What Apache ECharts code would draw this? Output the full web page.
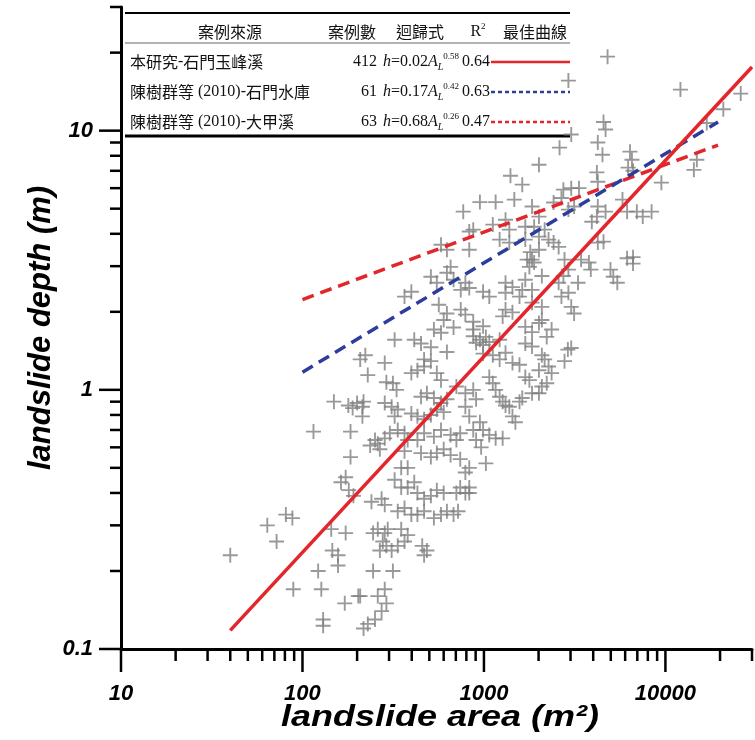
<!DOCTYPE html>
<html>
<head>
<meta charset="utf-8">
<script src="https://cdn.jsdelivr.net/npm/echarts@6/dist/echarts.min.js"></script>
<style>
  html, body { margin: 0; padding: 0; background: #fff; }
  #chart { width: 755px; height: 740px; }
</style>
</head>
<body>
<div id="chart"></div>
<script>
// landslide area (m2) / depth (m)
const areas = [
  40, 64, 72, 81, 88, 89, 122, 127, 130, 130, 115, 149, 146, 157, 157, 144, 173, 171, 203, 163,
  173, 180, 191, 184, 184, 179, 189, 200, 214, 217, 214, 208, 229, 222, 245, 260, 284, 295, 277, 290,
  267, 245, 315, 260, 284, 290, 273, 251, 229, 217, 208, 236, 251, 260, 267, 284, 240, 273, 284, 290,
  315, 330, 284, 310, 335, 322, 303, 335, 365, 380, 365, 350, 380, 322, 350, 380, 413, 430, 468, 510,
  335, 365, 398, 430, 468, 350, 380, 365, 335, 310, 457, 485, 468, 530, 580, 625, 680, 720, 550, 600,
  705, 790, 830, 450, 510, 550, 600, 655, 430, 468, 530, 580, 655, 705, 740, 398, 430, 468, 510, 550,
  600, 450, 485, 530, 580, 625, 398, 430, 468, 510, 550, 705, 790, 873, 905, 790, 830, 950, 873, 905,
  740, 830, 790, 740, 830,
  989, 1070, 1160, 1268, 1025, 965, 625, 905, 989, 1119, 1220, 1436, 1570, 1690, 1780, 1841, 2085, 2160, 2270, 2360,
  2218, 2085, 2010, 3027, 2780, 1070, 1119, 1160, 1220, 1268, 1315, 1380, 1436, 1490, 1570, 1626, 1841, 2010,
  2010, 1400, 1626, 950, 1160, 1470, 769, 1841, 2010, 1119, 1380, 1690, 830, 580, 830, 1220, 1380, 1690, 2010, 655,
  625, 510, 550, 680, 790, 745, 830, 398, 365, 989, 1070, 1315, 1436, 1626, 1841, 1690, 1780, 1841, 564, 625,
  600, 745, 790, 873, 680, 530, 580, 322, 413, 450, 510, 873, 950, 989, 1070, 1220, 1315, 1268, 1436, 1690,
  1841, 2010, 1690, 1315,
  4800, 2920, 12100, 26000, 20850, 16900, 4560, 4680, 3027, 2610, 4240, 4500, 6380, 6540, 6230, 6630, 14900, 14350,
  4190, 4240, 9500, 2740, 3027, 3340, 2673, 2420, 2920, 3140, 4240, 4680, 4190, 3930, 5800, 6150, 6960, 7500, 8390,
  1315, 1890, 2160, 2270, 2420, 2580, 2010, 1800, 1730, 1890, 2780, 2920, 2740, 3430, 3790, 3880, 3300, 4240, 4560,
  6150, 6630, 4980, 5430, 5160, 6630, 2085, 1315, 1570, 1841, 2085, 2580, 2673, 2920, 3027, 3140, 2085, 2360, 2218, 2900,
  873, 625, 873, 989, 1025, 284, 468, 580
];
const depths = [
  0.23, 0.30, 0.26, 0.33, 0.32, 0.17, 0.20, 0.17, 0.13, 0.123, 0.69, 0.90, 0.24, 0.23, 0.21, 0.29, 0.28, 0.15, 0.16, 0.44,
  0.46, 0.41, 0.39, 0.69, 0.55, 0.87, 0.85, 0.89, 0.86, 0.90, 0.79, 1.31, 1.14, 1.36, 0.28, 0.29, 0.28, 0.29, 0.26, 0.25,
  0.24, 0.20, 0.20, 0.16, 0.17, 0.15, 0.14, 0.13, 0.125, 0.12, 0.16, 0.61, 0.64, 0.62, 0.59, 0.65, 0.37, 0.38, 0.36, 1.07,
  1.06, 1.0, 0.89, 0.86, 0.84, 0.79, 0.68, 0.70, 0.68, 0.64, 0.58, 0.50, 0.50, 0.45, 0.42, 0.42, 0.44, 0.40, 0.38, 0.39,
  0.34, 0.35, 0.33, 0.33, 0.34, 0.29, 0.275, 0.26, 0.25, 0.24, 0.25, 0.24, 0.23, 0.32, 0.33, 0.34, 0.33, 0.34, 0.41, 0.40,
  0.40, 0.40, 0.42, 0.57, 0.55, 0.57, 0.59, 0.56, 0.64, 0.68, 0.66, 0.70, 0.67, 0.64, 0.68, 0.81, 0.79, 0.77, 0.80, 0.84,
  0.82, 0.94, 0.97, 0.93, 0.89, 0.92, 1.16, 1.19, 1.23, 1.29, 1.16, 1.03, 0.97, 1.0, 0.92, 0.86, 0.79, 0.75, 0.70, 0.64,
  0.54, 0.50, 0.48, 0.42, 0.40,
  0.70, 0.67, 0.65, 0.65, 0.52, 0.60, 1.40, 1.52, 1.38, 1.36, 1.31, 1.27, 1.25, 1.12, 1.09, 1.47, 1.36, 1.31, 1.23, 1.16,
  1.06, 1.03, 1.19, 1.45, 1.29, 1.12, 1.06, 1.0, 0.94, 0.90, 0.87, 0.86, 0.79, 0.75, 0.90, 0.93, 0.97, 0.97,
  7.39, 6.7, 6.19, 5.3, 5.3, 5.42, 4.87, 5.1, 4.66, 4.34, 4.15, 4.26, 4.08, 3.63, 3.47, 3.80, 3.70, 3.80, 3.90, 2.98,
  2.83, 2.73, 2.59, 2.66, 2.59, 2.43, 2.47, 2.39, 2.29, 2.39, 2.29, 2.59, 2.49, 2.43, 2.43, 2.66, 2.98, 3.18, 2.13, 1.97,
  1.86, 2.04, 1.95, 1.83, 1.74, 1.71, 1.66, 1.56, 1.56, 1.51, 1.46, 1.61, 1.56, 1.49, 1.53, 1.56, 2.04, 1.92, 1.99, 1.75,
  1.67, 1.81, 1.51, 1.39,
  19.3, 15.6, 14.4, 13.9, 12.1, 10.7, 10.8, 10.1, 9.66, 8.6, 9.0, 8.07, 8.3, 7.72, 7.2, 7.0, 7.72, 7.06,
  6.9, 6.35, 6.3, 5.92, 6.0, 6.0, 5.5, 5.28, 4.96, 5.1, 5.1, 4.87, 4.66, 4.45, 5.42, 4.87, 4.87, 4.66, 4.87,
  4.53, 4.26, 4.15, 3.80, 3.70, 3.56, 3.47, 3.40, 3.18, 3.10, 3.18, 2.91, 2.75, 3.18, 3.10, 2.91, 2.59, 3.70, 3.73,
  3.22, 3.25, 2.91, 2.59, 2.73, 3.07, 2.75, 2.37, 2.29, 2.17, 2.09, 2.59, 2.29, 2.37, 2.09, 1.97, 1.86, 1.71, 1.60, 1.43,
  4.15, 3.47, 1.71, 1.76, 1.60, 1.27, 1.31, 1.09
];

// fitted curves as drawn in the figure (end points)
const thisStudyArea = [40, 30000];
const thisStudyDepth = [0.118, 17.6];
const shimenArea = [100, 19500];
const shimenDepth = [1.17, 10.8];
const dajiaArea = [100, 19500];
const dajiaDepth = [2.23, 8.8];

// axes
const xMin = 10, xMax = 30000;
const yMin = 0.1, yMax = 30;
const xTickValues = [10, 100, 1000, 10000];
const xTickLabels = ['10', '100', '1000', '10000'];
const yTickValues = [0.1, 1, 10];
const yTickLabels = ['0.1', '1', '10'];
const xMinorTicks = [20, 30, 40, 50, 60, 70, 80, 90, 200, 300, 400, 500, 600, 700, 800, 900,
  2000, 3000, 4000, 5000, 6000, 7000, 8000, 9000, 20000, 30000];
const yMinorTicks = [0.2, 0.3, 0.4, 0.5, 0.6, 0.7, 0.8, 0.9, 2, 3, 4, 5, 6, 7, 8, 9, 20, 30];

// table
const tableHeaders = ['案例來源', '案例數', '迴歸式', 'R2', '最佳曲線'];
const sourceNames = ['本研究-石門玉峰溪', '陳樹群等 (2010)-石門水庫', '陳樹群等 (2010)-大甲溪'];
const caseCounts = ['412', '61', '63'];
const coefs = ['0.02', '0.17', '0.68'];
const exponents = ['0.58', '0.42', '0.26'];
const r2Values = ['0.64', '0.63', '0.47'];

const RED = '#e3262b';
const BLUE = '#2c3d9c';
const CJK = '"Noto Sans CJK TC"';
const SERIF = '"Liberation Serif"';
const SANS = '"Liberation Sans"';

const chart = echarts.init(document.getElementById('chart'));

function pick(values, labels) {
  return function (v) {
    for (let i = 0; i < values.length; i++) {
      if (Math.abs(Math.log10(v) - Math.log10(values[i])) < 1e-6) return labels[i];
    }
    return '';
  };
}

// axis ticks drawn by hand so the minor ones sit on 2..9 of each decade
const ticks = [];
xTickValues.forEach(v => ticks.push(['x', v, 23]));
xMinorTicks.forEach(v => ticks.push(['x', v, 12]));
yTickValues.forEach(v => ticks.push(['y', v, 22]));
yMinorTicks.forEach(v => ticks.push(['y', v, 11]));

function mixedText(s) {
  return s.match(/[\x00-\xff]+|[^\x00-\xff]+/g)
    .map(r => (/[\x00-\xff]/.test(r[0]) ? '{lat|' + r + '}' : '{cjk|' + r + '}'))
    .join('');
}

const richStyles = {
  cjk: { fontFamily: CJK, fontSize: 16, fill: '#111', lineHeight: 20 },
  lat: { fontFamily: SERIF, fontSize: 16, fill: '#111', lineHeight: 20 },
  n: { fontFamily: SERIF, fontSize: 16, fill: '#111', lineHeight: 20 },
  it: { fontFamily: SERIF, fontSize: 16, fontStyle: 'italic', fill: '#111', lineHeight: 20 },
  sub: { fontFamily: SERIF, fontSize: 10, fontStyle: 'italic', fill: '#111', lineHeight: 10, verticalAlign: 'bottom' },
  sup: { fontFamily: SERIF, fontSize: 9, fill: '#111', lineHeight: 9, verticalAlign: 'top' }
};

const tLeft = 125, tRight = 570;
const headerY = 32, rowY = [62, 92, 122];
const graphics = [
  { type: 'line', shape: { x1: tLeft, y1: 13, x2: tRight, y2: 13 }, style: { stroke: '#000', lineWidth: 2 } },
  { type: 'line', shape: { x1: tLeft, y1: 43, x2: tRight, y2: 43 }, style: { stroke: '#999', lineWidth: 1.5 } },
  { type: 'line', shape: { x1: tLeft, y1: 136, x2: tRight, y2: 136 }, style: { stroke: '#000', lineWidth: 3 } }
];
const headerX = [230, 352, 420, 478, 535];
tableHeaders.forEach((h, i) => {
  const txt = h === 'R2' ? '{n|R}{sup|2}' : '{cjk|' + h + '}';
  graphics.push({
    type: 'text', x: headerX[i], y: headerY,
    style: { text: txt, rich: richStyles, align: 'center', verticalAlign: 'middle' }
  });
});
const sampleStyles = [
  { stroke: RED, lineWidth: 2.5 },
  { stroke: BLUE, lineWidth: 2.5, lineDash: [4, 3] },
  { stroke: RED, lineWidth: 2.5, lineDash: [4, 3] }
];
sourceNames.forEach((name, i) => {
  const y = rowY[i];
  graphics.push({ type: 'text', x: 130, y: y,
    style: { text: mixedText(name), rich: richStyles, align: 'left', verticalAlign: 'middle' } });
  graphics.push({ type: 'text', x: 377, y: y,
    style: { text: '{n|' + caseCounts[i] + '}', rich: richStyles, align: 'right', verticalAlign: 'middle' } });
  graphics.push({ type: 'text', x: 383, y: y,
    style: {
      text: '{it|h}{n|=' + coefs[i] + '}{it|A}{sub|L}{sup|' + exponents[i] + '}',
      rich: richStyles, align: 'left', verticalAlign: 'middle'
    } });
  graphics.push({ type: 'text', x: 462, y: y,
    style: { text: '{n|' + r2Values[i] + '}', rich: richStyles, align: 'left', verticalAlign: 'middle' } });
  graphics.push({ type: 'line', shape: { x1: 491, y1: y, x2: tRight, y2: y }, style: sampleStyles[i] });
});

// axis titles
graphics.push({
  type: 'text', x: 440, y: 718, scaleX: 1.2,
  style: { text: 'landslide area (m²)', fontFamily: SANS, fontSize: 30, fontWeight: 'bold',
    fontStyle: 'italic', fill: '#000', align: 'center', verticalAlign: 'middle' }
});
graphics.push({
  type: 'text', x: 41, y: 328, rotation: Math.PI / 2,
  style: { text: 'landslide depth (m)', fontFamily: SANS, fontSize: 31, fontWeight: 'bold',
    fontStyle: 'italic', fill: '#000', align: 'center', verticalAlign: 'middle' }
});

const labelStyle = { fontFamily: SANS, fontWeight: 'bold', fontStyle: 'italic', fontSize: 22, color: '#000' };

function zip(a, b) { return a.map((v, i) => [v, b[i]]); }

chart.setOption({
  animation: false,
  backgroundColor: '#fff',
  grid: { left: 121, right: -9, top: 7, bottom: 91 },
  xAxis: {
    type: 'log', logBase: 10, min: xMin, max: xMax,
    axisLine: { lineStyle: { color: '#000', width: 3 } },
    axisTick: { show: false },
    splitLine: { show: false },
    axisLabel: Object.assign({ margin: 34, formatter: pick(xTickValues, xTickLabels) }, labelStyle)
  },
  yAxis: {
    type: 'log', logBase: 10, min: yMin, max: yMax,
    axisLine: { lineStyle: { color: '#000', width: 3 } },
    axisTick: { show: false },
    splitLine: { show: false },
    axisLabel: Object.assign({ margin: 28, formatter: pick(yTickValues, yTickLabels) }, labelStyle)
  },
  graphic: { elements: graphics },
  series: [
    {
      type: 'scatter',
      data: zip(areas, depths),
      symbol: 'path://M7,0H9V7H16V9H9V16H7V9H0V7H7Z',
      symbolSize: 15,
      itemStyle: { color: '#808080' },
      z: 2
    },
    {
      type: 'line', data: zip(dajiaArea, dajiaDepth), showSymbol: false, z: 3,
      lineStyle: { color: RED, width: 3.5, type: [12, 7] }
    },
    {
      type: 'line', data: zip(shimenArea, shimenDepth), showSymbol: false, z: 3,
      lineStyle: { color: BLUE, width: 3.5, type: [12, 7] }
    },
    {
      type: 'line', data: zip(thisStudyArea, thisStudyDepth), showSymbol: false, z: 4,
      lineStyle: { color: RED, width: 3.5 }
    },
    {
      type: 'custom', silent: true, clip: false, z: 5,
      data: ticks.map(() => [xMin, yMin]),
      renderItem: function (params, api) {
        const t = ticks[params.dataIndex];
        if (t[0] === 'x') {
          const p = api.coord([t[1], yMin]);
          return { type: 'line', shape: { x1: p[0], y1: p[1], x2: p[0], y2: p[1] + t[2] },
            style: { stroke: '#000', lineWidth: 2.5 } };
        }
        const p = api.coord([xMin, t[1]]);
        return { type: 'line', shape: { x1: p[0] - t[2], y1: p[1], x2: p[0], y2: p[1] },
          style: { stroke: '#000', lineWidth: 2.5 } };
      }
    }
  ]
});
</script>
</body>
</html>
